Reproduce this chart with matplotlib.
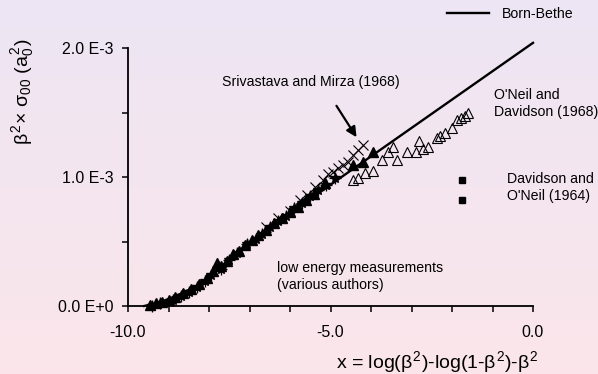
import matplotlib; matplotlib.use("agg")
import matplotlib.pyplot as plt
import numpy as np

plt.rcParams['font.family'] = ['Liberation Sans', 'DejaVu Sans']
plt.rcParams['mathtext.fontset'] = 'custom'
plt.rcParams['mathtext.rm'] = 'Liberation Sans'
plt.rcParams['mathtext.it'] = 'Liberation Sans'

# y values are in units of 1E-3 a0^2
born_x = [-9.6, -9.2, -8.8, -8.4, -8.0, -7.5, -7.0, -6.0, -5.0, -4.0, -2.0, 0.0]
born_y = [0.0, 0.03, 0.08, 0.14, 0.22, 0.36, 0.49, 0.72, 0.94, 1.16, 1.60, 2.04]

# low energy measurements (various authors)
low_tri_x = [-9.45, -9.3, -9.15, -9.0, -8.85, -8.65, -8.45, -8.25, -8.05, -7.9, -7.8, -7.7,
             -7.55, -7.4, -7.25, -7.1, -6.95, -6.8, -6.6, -6.4, -6.2, -6.0, -5.8, -5.6,
             -5.4, -5.14, -4.44, -4.2, -3.95]
low_tri_y = [0.01, 0.02, 0.03, 0.05, 0.07, 0.10, 0.13, 0.17, 0.22, 0.27, 0.33, 0.31,
             0.35, 0.40, 0.43, 0.47, 0.51, 0.55, 0.59, 0.64, 0.68, 0.73, 0.77, 0.82,
             0.87, 0.95, 1.09, 1.12, 1.19]
low_star_x = [-9.4, -9.2, -8.9, -8.7, -8.5, -8.3, -8.1, -7.95, -7.7, -7.5, -7.3, -7.05,
              -6.85, -6.7, -6.5, -6.3, -6.1, -5.9, -5.7, -5.5, -5.3, -5.1, -4.9]
low_star_y = [0.0, 0.02, 0.05, 0.08, 0.11, 0.15, 0.19, 0.24, 0.29, 0.36, 0.41, 0.48,
              0.52, 0.56, 0.61, 0.66, 0.70, 0.76, 0.80, 0.85, 0.90, 0.94, 0.99]

# Srivastava and Mirza (1968)
sm_x = [-6.6, -6.3, -6.0, -5.75, -5.58, -5.38, -5.19, -5.06, -4.94, -4.81, -4.69, -4.57,
        -4.44, -4.32, -4.2]
sm_y = [0.61, 0.68, 0.74, 0.82, 0.86, 0.92, 0.98, 1.02, 1.04, 1.07, 1.09, 1.12,
        1.17, 1.21, 1.25]

# O'Neil and Davidson (1968)
od_x = [-4.44, -4.32, -4.15, -3.95, -3.73, -3.58, -3.46, -3.36, -3.11, -2.89, -2.81,
        -2.72, -2.59, -2.37, -2.30, -2.17, -2.00, -1.88, -1.78, -1.68, -1.60]
od_y = [0.98, 0.99, 1.03, 1.05, 1.13, 1.19, 1.23, 1.13, 1.19, 1.19, 1.28,
        1.22, 1.23, 1.30, 1.32, 1.34, 1.38, 1.44, 1.46, 1.47, 1.50]

# Davidson and O'Neil (1964)
do_x = [-1.75, -1.75]
do_y = [0.98, 0.82]

fig = plt.figure(figsize=(5.98, 3.74), dpi=100)

# background gradient lavender -> pink
bg = fig.add_axes([0, 0, 1, 1], zorder=-10)
top = np.array([237, 230, 244]) / 255.
bot = np.array([251, 229, 234]) / 255.
t = np.linspace(0, 1, 256)[:, None]
grad = (top * (1 - t) + bot * t)[:, None, :]
bg.imshow(grad, aspect='auto', extent=[0, 1, 0, 1])
bg.axis('off')

ax = fig.add_axes([128/598, 68/374, 405/598, 258/374])
ax.patch.set_alpha(0)

line, = ax.plot(born_x, born_y, color='black', lw=1.7, clip_on=False, zorder=3,
                label='Born-Bethe')
ax.plot(low_tri_x, low_tri_y, ls='none', marker='^', ms=6.5, color='black', zorder=4,
        clip_on=False)
ax.plot(low_star_x, low_star_y, ls='none', marker='*', ms=7, color='black', zorder=4,
        clip_on=False)
ax.plot(low_star_x, low_star_y, ls='none', marker='+', ms=8, mew=0.9, color='black',
        zorder=4, clip_on=False)
ax.plot(sm_x, sm_y, ls='none', marker='x', ms=7, mew=0.8, color='black', zorder=4)
ax.plot(od_x, od_y, ls='none', marker='^', ms=7, mfc='none', mec='black', mew=0.8,
        zorder=4)
ax.plot(do_x, do_y, ls='none', marker='s', ms=4.5, color='black', zorder=4)

ax.set_xlim(-10, 0)
ax.set_ylim(0, 2.0)
ax.set_xticks([-10, -5, 0])
ax.set_xticklabels(['-10.0', '-5.0', '0.0'])
ax.set_xticks(np.arange(-10, 1, 1), minor=True)
ax.set_yticks([0, 1, 2])
ax.set_yticklabels(['0.0 E+0', '1.0 E-3', '2.0 E-3'])
ax.set_yticks([0.5, 1.5], minor=True)
ax.tick_params(which='both', direction='out', length=4.5, width=1.1, labelsize=11.5,
               colors='black')
ax.tick_params(axis='x', pad=9)
ax.tick_params(axis='y', pad=6)
for s in ['top', 'right']:
    ax.spines[s].set_visible(False)
for s in ['left', 'bottom']:
    ax.spines[s].set_linewidth(1.3)

fig.text(0.037, 0.754, r'$\beta^2\!\times\,\sigma_{00}\ (\mathrm{a}_0^{\,2})$', rotation=90,
         ha='center', va='center', fontsize=14)
fig.text(0.731, 0.032, r'x = log($\beta^2$)-log(1-$\beta^2$)-$\beta^2$', ha='center',
         va='center', fontsize=14)

fs = 10.2
ax.text(-7.68, 1.74, 'Srivastava and Mirza (1968)', fontsize=fs, va='center')
ax.annotate('', xy=(-4.32, 1.29), xytext=(-4.89, 1.57),
            arrowprops=dict(arrowstyle='-|>', color='black', lw=1.6, mutation_scale=15))
ax.text(-0.96, 1.57, "O'Neil and\nDavidson (1968)", fontsize=fs, va='center',
        linespacing=1.25, clip_on=False)
ax.text(-0.64, 0.92, "Davidson and\nO'Neil (1964)", fontsize=fs, va='center',
        linespacing=1.25, clip_on=False)
ax.text(-6.32, 0.23, 'low energy measurements\n(various authors)', fontsize=fs,
        va='center', linespacing=1.25)

ax.legend(handles=[line], loc='center left', bbox_to_anchor=(447/598, 1 - 14/374),
          bbox_transform=fig.transFigure, frameon=False, fontsize=fs, handlelength=3.0,
          handletextpad=0.9, borderpad=0, borderaxespad=0)

fig.savefig('out.png', dpi=100)
